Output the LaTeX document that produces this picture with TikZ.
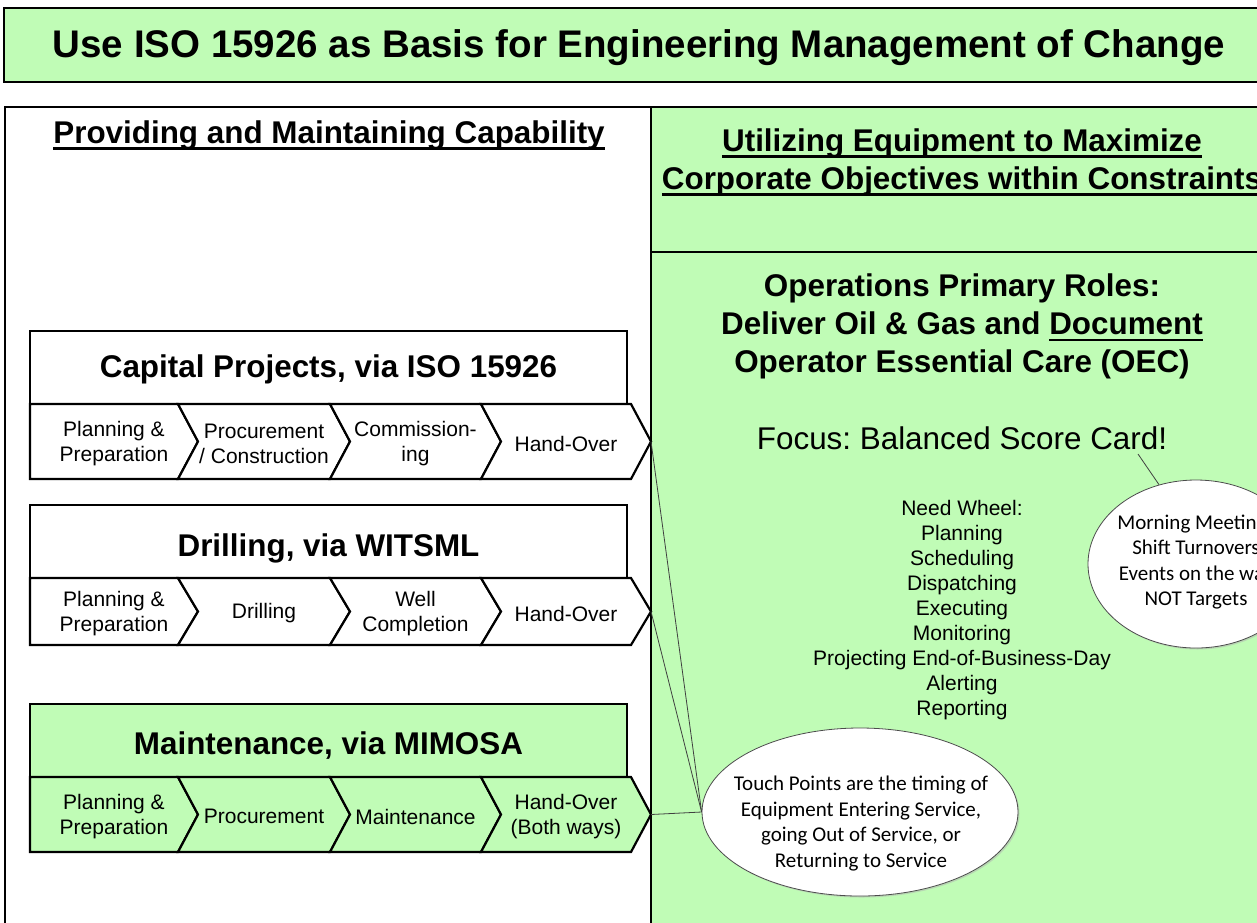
\documentclass[tikz,border=0pt]{standalone}
\usepackage{fontspec}
\setmainfont{Liberation Sans}
\newfontfamily\calibri{Carlito}
\newcommand\myul[1]{\setbox0\hbox{#1}\rlap{\rule[-6.5pt]{\wd0}{2.2pt}}\box0}
\usetikzlibrary{shapes.geometric,shadows}
\definecolor{pg}{RGB}{192,252,182}
\newcommand\mkchev[8]{% x0, x1, ytop, ybot, fill, notch, name, text
  \pgfmathsetmacro\ym{(#3+#4)/2}
  \draw[line width=2.2pt,line join=miter,fill=#5] (#1,#3) -- (#2,#3) -- ({#2+20},\ym) -- (#2,#4) -- (#1,#4) -- ({#1+#6},\ym) -- cycle;
  \node[chevtxt] (#7) at ({(#1+#2)/2+10},\ym+2) {#8};}
\begin{document}
\frenchspacing
\begin{tikzpicture}[x=1pt,y=-1pt,
  panel/.style={draw=black,line width=2.5pt},
  boxtitle/.style={font=\bfseries\fontsize{31.4}{38}\selectfont},
  titlebox/.style={draw=black,line width=2.2pt,minimum width=597pt,minimum height=73pt,inner sep=0pt,boxtitle},
  chevtxt/.style={font=\fontsize{21}{25}\selectfont,align=center,inner sep=0pt},
  callout/.style={ellipse,draw=black!70,line width=0.8pt,fill=white,inner sep=0pt,
    drop shadow={shadow xshift=1.5pt,shadow yshift=-1.5pt,fill=black!30,opacity=0.5}},
  calltxt/.style={font=\calibri\fontsize{21}{25.5}\selectfont,align=center,inner sep=0pt},
  link/.style={draw=black!75,line width=0.8pt}]
\useasboundingbox (0,0) rectangle (1257,922);
\clip (0,0) rectangle (1257,922);
\fill[white] (0,0) rectangle (1257,922);
% title
\draw[fill=pg,line width=2pt] (4,8) rectangle (1290,82);
\node[font=\bfseries\fontsize{38.5}{44}\selectfont] (title) at (639,48) {Use ISO 15926 as Basis for Engineering Management of Change};
% panels
\draw[panel,fill=white] (5,107) rectangle (651,950);
\draw[panel,fill=pg] (651,107) rectangle (1290,252);
\draw[panel,fill=pg] (651,252) rectangle (1290,950);
% left heading
\node[boxtitle] (prov) at (329,135) {\myul{Providing and Maintaining Capability}};
% capital projects
\node[titlebox,fill=white] (cap) at (328.5,367.5) {\raisebox{-10pt}[0pt][0pt]{Capital Projects, via ISO 15926}};
\mkchev{30}{178}{404}{479}{white}{0}{cp1}{Planning \&\\Preparation}
\mkchev{178}{330}{404}{479}{white}{20}{cp2}{Procurement\\/ Construction}
\mkchev{330}{481}{404}{479}{white}{20}{cp3}{Commission-\\ing}
\mkchev{481}{631}{404}{479}{white}{20}{cp4}{Hand-Over}
\coordinate (cptip) at (651,441.5);
% drilling
\node[titlebox,fill=white] (dri) at (328.5,541.5) {\raisebox{-14.5pt}[0pt][0pt]{Drilling, via WITSML}};
\mkchev{30}{178}{578}{645}{white}{0}{dr1}{Planning \&\\Preparation}
\mkchev{178}{330}{578}{645}{white}{20}{dr2}{Drilling}
\mkchev{330}{481}{578}{645}{white}{20}{dr3}{Well\\Completion}
\mkchev{481}{631}{578}{645}{white}{20}{dr4}{Hand-Over}
\coordinate (drtip) at (651,611.5);
% maintenance
\node[titlebox,fill=pg] (mnt) at (328.5,740.5) {\raisebox{-13.5pt}[0pt][0pt]{Maintenance, via MIMOSA}};
\mkchev{30}{178}{777}{852}{pg}{0}{mn1}{Planning \&\\Preparation}
\mkchev{178}{330}{777}{852}{pg}{20}{mn2}{Procurement}
\mkchev{330}{481}{777}{852}{pg}{20}{mn3}{Maintenance}
\mkchev{481}{631}{777}{852}{pg}{20}{mn4}{Hand-Over\\(Both ways)}
\coordinate (mntip) at (651,814.5);
% right side
\node[boxtitle,align=center] (util) at (962,162) {\myul{Utilizing Equipment to Maximize}\\\myul{Corporate Objectives within Constraints}};
\node[boxtitle,align=center] (ops) at (962,326.5) {Operations Primary Roles:\\Deliver Oil \& Gas and \myul{Document}\\Operator Essential Care (OEC)};
\node[font=\fontsize{31.4}{38}\selectfont] (focus) at (962,438) {Focus: Balanced Score Card!};
\node[chevtxt] (wheel) at (962,610) {Need Wheel:\\Planning\\Scheduling\\Dispatching\\Executing\\Monitoring\\Projecting End-of-Business-Day\\Alerting\\Reporting};
% callouts
\node[callout,minimum width=216pt,minimum height=168pt] (morning) at (1196,564) {};
\node[calltxt] (morningtxt) at (1196,562) {Morning Meetings\\Shift Turnovers\\Events on the way\\NOT Targets};
\coordinate (mpin) at (1138,454);
\draw[link] (mpin) -- (morning.115);
\node[callout,minimum width=316pt,minimum height=168pt] (touch) at (860,812) {};
\node[calltxt] (touchtxt) at (861,823.5) {Touch Points are the timing of\\Equipment Entering Service,\\going Out of Service, or\\Returning to Service};
\draw[link] (cptip) -- (touch.west);
\draw[link] (drtip) -- (touch.west);
\draw[link] (mntip) -- (touch.west);
\end{tikzpicture}
\end{document}
